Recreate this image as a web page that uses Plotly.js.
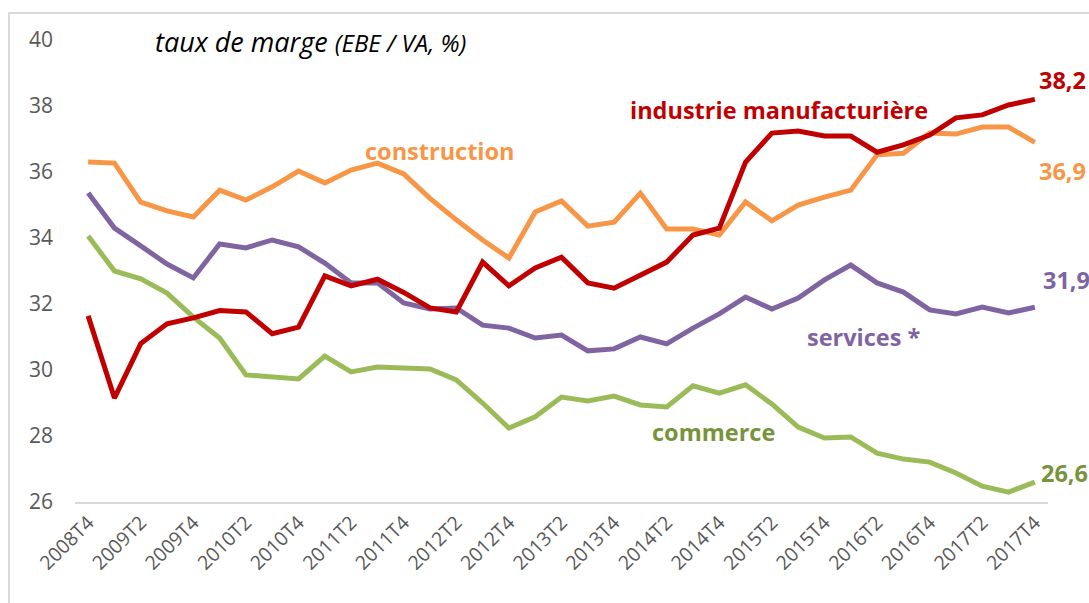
<!DOCTYPE html>
<html>
<head>
<meta charset="utf-8">
<script src="https://cdn.plot.ly/plotly-3.0.1.min.js"></script>
<style>
  html, body { margin:0; padding:0; background:#fff; }
  #frame { position:absolute; left:8px; top:12px; width:1100px; height:620px;
           border-left:2px solid #d9d9d9; border-top:2px solid #d9d9d9; box-sizing:border-box; }
  #chart { position:absolute; left:0; top:0; width:1089px; height:603px; }
</style>
</head>
<body>
<div id="frame"></div>
<div id="chart"></div>
<script>
// Quarters 2008T4 .. 2017T4
const quarters = [
  "2008T4",
  "2009T1","2009T2","2009T3","2009T4",
  "2010T1","2010T2","2010T3","2010T4",
  "2011T1","2011T2","2011T3","2011T4",
  "2012T1","2012T2","2012T3","2012T4",
  "2013T1","2013T2","2013T3","2013T4",
  "2014T1","2014T2","2014T3","2014T4",
  "2015T1","2015T2","2015T3","2015T4",
  "2016T1","2016T2","2016T3","2016T4",
  "2017T1","2017T2","2017T3","2017T4"
];
const tickLabels = ["2008T4","2009T2","2009T4","2010T2","2010T4","2011T2","2011T4","2012T2","2012T4",
  "2013T2","2013T4","2014T2","2014T4","2015T2","2015T4","2016T2","2016T4","2017T2","2017T4"];

const industrie = [31.64,29.15,30.8,31.4,31.58,31.8,31.76,31.1,31.3,32.85,32.55,32.75,32.35,31.88,31.76,
  33.27,32.55,33.09,33.42,32.64,32.48,32.88,33.27,34.09,34.3,36.3,37.18,37.24,37.09,37.09,36.6,36.82,
  37.12,37.64,37.73,38.03,38.2];
const construction = [36.3,36.27,35.09,34.82,34.64,35.45,35.15,35.55,36.03,35.67,36.06,36.27,35.94,35.2,
  34.55,33.94,33.39,34.79,35.12,34.36,34.48,35.36,34.27,34.27,34.09,35.09,34.52,35.0,35.24,35.45,36.52,
  36.57,37.18,37.15,37.36,37.36,36.9];
const services = [35.36,34.3,33.76,33.21,32.79,33.82,33.7,33.94,33.73,33.24,32.64,32.64,32.03,31.85,31.88,
  31.36,31.27,30.97,31.06,30.58,30.64,31.0,30.79,31.27,31.7,32.21,31.85,32.18,32.73,33.18,32.64,32.36,
  31.82,31.7,31.91,31.73,31.9];
const commerce = [34.06,33.0,32.76,32.33,31.6,30.97,29.85,29.79,29.73,30.42,29.94,30.09,30.06,30.03,29.7,
  29.0,28.24,28.58,29.18,29.06,29.21,28.94,28.88,29.52,29.3,29.55,28.97,28.27,27.94,27.97,27.48,27.3,
  27.21,26.88,26.48,26.3,26.6];
const seriesNames = ["industrie manufacturière","construction","services *","commerce"];
const endLabels = ["38,2","36,9","31,9","26,6"];
const yTicks = [26,28,30,32,34,36,38,40];

const colRed = "#C00000", colOrange = "#F79646", colPurple = "#8064A2", colGreen = "#9BBB59", colGreenTxt = "#77933C";
const font = "'Open Sans', Lato, sans-serif";

function line(y, color, name) {
  return { x: quarters, y: y, type: "scatter", mode: "lines", name: name,
           line: { color: color, width: 5, shape: "linear" }, hoverinfo: "x+y" };
}
const data = [
  line(commerce, colGreen, seriesNames[3]),
  line(services, colPurple, seriesNames[2]),
  line(construction, colOrange, seriesNames[1]),
  line(industrie, colRed, seriesNames[0])
];

// plot area: x 75..1048, y 40..502
const L = 75, R = 1048, T = 40, B = 502;
function px(x) { return (x - L) / (R - L); }
function py(y) { return (B - y) / (B - T); }
function lab(text, x, y, color, size) {
  return { text: "<b>" + text + "</b>", x: px(x), y: py(y), xref: "paper", yref: "paper",
           xanchor: "center", yanchor: "middle", showarrow: false,
           font: { family: font, size: size || 23.5, color: color } };
}
const annotations = [
  lab(seriesNames[0], 779, 110, colRed),
  lab(seriesNames[1], 440, 151, colOrange),
  lab(seriesNames[2], 864, 337, colPurple),
  lab(seriesNames[3], 713, 432, colGreenTxt),
  lab(endLabels[0], 1062, 80, colRed),
  lab(endLabels[1], 1062, 171, colOrange),
  lab(endLabels[2], 1066, 280, colPurple),
  lab(endLabels[3], 1064, 473, colGreenTxt)
];

const layout = {
  width: 1089, height: 603,
  margin: { l: L, r: 1089 - R, t: T, b: 603 - B, pad: 0 },
  paper_bgcolor: "rgba(0,0,0,0)", plot_bgcolor: "rgba(0,0,0,0)",
  showlegend: false,
  font: { family: font, color: "#595959" },
  title: {
    text: "taux de marge <span style='font-size:24px'>(EBE / VA, %)</span>",
    x: 155 / 1089, xanchor: "left", xref: "container",
    y: 1 - 43 / 603, yanchor: "middle", yref: "container",
    font: { family: font, size: 27, color: "#000", style: "italic" }
  },
  xaxis: {
    type: "category", range: [-0.5, quarters.length - 0.5],
    tickmode: "array", tickvals: tickLabels, ticktext: tickLabels,
    tickangle: -45, tickfont: { size: 19.5, color: "#595959", family: font },
    showgrid: false, zeroline: false, showline: true, linecolor: "#d9d9d9", linewidth: 1.5,
    ticks: "", automargin: false
  },
  yaxis: {
    range: [26, 40], tickmode: "array", tickvals: yTicks,
    tickfont: { size: 21, color: "#595959", family: font },
    showgrid: false, zeroline: false, showline: false, ticks: "",
    ticklabelstandoff: 21, automargin: false
  },
  annotations: annotations
};

Plotly.newPlot("chart", data, layout, { displayModeBar: false, staticPlot: true });
</script>
</body>
</html>
